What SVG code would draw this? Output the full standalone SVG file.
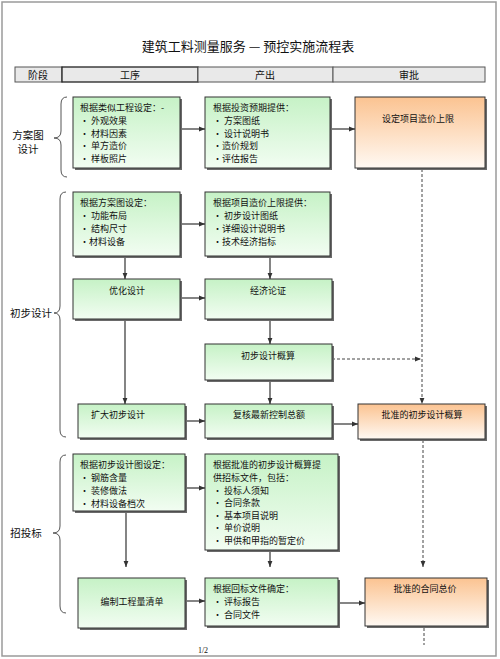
<svg xmlns="http://www.w3.org/2000/svg" width="500" height="659" viewBox="0 0 500 659">
<defs>
<linearGradient id="gG" x1="0" y1="0" x2="0" y2="1">
<stop offset="0" stop-color="#c6f2c6"/>
<stop offset="1" stop-color="#f2fdf2"/>
</linearGradient>
<linearGradient id="gO" x1="0" y1="0" x2="0" y2="1">
<stop offset="0" stop-color="#fbc391"/>
<stop offset="1" stop-color="#fff9f3"/>
</linearGradient>
<marker id="ar" viewBox="0 0 10 10" refX="10" refY="5" markerWidth="6" markerHeight="6" orient="auto" markerUnits="userSpaceOnUse">
<path d="M0,1 L10,5 L0,9 z" fill="#333"/>
</marker>
<style>
text{font-family:"Noto Sans CJK SC","Noto Sans",sans-serif;fill:#111}
.t{font-size:9px}
.c{text-anchor:middle}
.lab{font-size:10.5px;text-anchor:middle}
.hd{font-size:10px;text-anchor:middle}
.g{fill:url(#gG);stroke:#333;stroke-width:1}
.o{fill:url(#gO);stroke:#333;stroke-width:1}
.sh{fill:#6a6a6a}
.cn{stroke:#333;stroke-width:1.2;fill:none}
.da{stroke:#444;stroke-width:1;fill:none;stroke-dasharray:3,2}
.br{stroke:#555;stroke-width:1;fill:none}
.hc{fill:#e9e9e9;stroke:#555;stroke-width:1}
</style>
</defs>
<rect x="0" y="0" width="500" height="659" fill="#fff"/>
<rect x="2" y="2" width="494" height="654" fill="none" stroke="#9a9a9a" stroke-width="1.5"/>
<text x="248" y="51" class="c" style="font-size:13px">建筑工料测量服务 — 预控实施流程表</text>

<g id="header">
<rect x="15" y="67" width="47" height="15" class="hc"/>
<rect x="62" y="67" width="136" height="15" class="hc" style="stroke:#222;stroke-width:1.3"/>
<rect x="198" y="67" width="135" height="15" class="hc"/>
<rect x="333" y="67" width="152" height="15" class="hc"/>
<text x="38" y="78.5" class="hd">阶段</text>
<text x="130" y="78.5" class="hd">工序</text>
<text x="265" y="78.5" class="hd">产出</text>
<text x="409" y="78.5" class="hd">审批</text>
</g>

<g id="stages">
<path class="br" d="M67,97 Q61,97 61,104 L61,131 Q61,138 54,138 Q61,138 61,145 L61,170 Q61,177 67,177"/>
<text x="28" y="139" class="lab">方案图</text>
<text x="28" y="153" class="lab">设计</text>
<path class="br" d="M66,192 Q60,192 60,199 L60,306 Q60,313 54,313 Q60,313 60,320 L60,430 Q60,437 66,437"/>
<text x="31" y="317" class="lab">初步设计</text>
<path class="br" d="M66,455 Q60,455 60,462 L60,526 Q60,533 53,533 Q60,533 60,540 L60,606 Q60,613 66,613"/>
<text x="26" y="537" class="lab">招投标</text>
</g>

<g id="connectors">
<line class="cn" x1="180" y1="129" x2="205" y2="129" marker-end="url(#ar)"/>
<line class="cn" x1="332" y1="129" x2="355" y2="129" marker-end="url(#ar)"/>
<line class="cn" x1="180" y1="224" x2="205" y2="224" marker-end="url(#ar)"/>
<line class="cn" x1="125" y1="257" x2="125" y2="279" marker-end="url(#ar)"/>
<line class="cn" x1="270" y1="257" x2="270" y2="279" marker-end="url(#ar)"/>
<line class="cn" x1="180" y1="298" x2="205" y2="298" marker-end="url(#ar)"/>
<line class="cn" x1="270" y1="320" x2="270" y2="344" marker-end="url(#ar)"/>
<line class="cn" x1="125" y1="320" x2="125" y2="404" marker-end="url(#ar)"/>
<line class="cn" x1="270" y1="381" x2="270" y2="404" marker-end="url(#ar)"/>
<line class="cn" x1="185" y1="421" x2="205" y2="421" marker-end="url(#ar)"/>
<line class="cn" x1="332" y1="424" x2="358" y2="424" marker-end="url(#ar)"/>
<line class="da" x1="332" y1="359" x2="421" y2="359" marker-end="url(#ar)"/>
<line class="da" x1="422" y1="169" x2="422" y2="404" marker-end="url(#ar)"/>
<line class="da" x1="423" y1="440" x2="423" y2="567" marker-end="url(#ar)"/>
<line class="da" x1="424" y1="628" x2="424" y2="645"/>
<line class="cn" x1="185" y1="488" x2="205" y2="488" marker-end="url(#ar)"/>
<line class="cn" x1="126" y1="512" x2="126" y2="567" marker-end="url(#ar)"/>
<line class="cn" x1="270" y1="551" x2="270" y2="567" marker-end="url(#ar)"/>
<line class="cn" x1="185" y1="601" x2="205" y2="601" marker-end="url(#ar)"/>
<line class="cn" x1="338" y1="603" x2="365" y2="603" marker-end="url(#ar)"/>
</g>

<g id="A1">
<rect x="75" y="99" width="107" height="71" class="sh"/>
<rect x="73" y="97" width="107" height="71" class="g"/>
<text class="t" x="80" y="111">根据类似工程设定：-</text>
<text class="t" x="80" y="124">• 外观效果</text>
<text class="t" x="80" y="137">• 材料因素</text>
<text class="t" x="80" y="149">• 单方造价</text>
<text class="t" x="80" y="162">• 样板照片</text>
</g>
<g id="A2">
<rect x="207" y="99" width="125" height="71" class="sh"/>
<rect x="205" y="97" width="125" height="71" class="g"/>
<text class="t" x="213" y="111">根据投资预期提供：</text>
<text class="t" x="213" y="124">• 方案图纸</text>
<text class="t" x="213" y="137">• 设计说明书</text>
<text class="t" x="213" y="149">•造价规划</text>
<text class="t" x="213" y="162">•评估报告</text>
</g>
<g id="A3">
<rect x="357" y="99" width="130" height="71" class="sh"/>
<rect x="355" y="97" width="130" height="71" class="o"/>
<text class="t c" x="418" y="122">设定项目造价上限</text>
</g>

<g id="B1">
<rect x="75" y="194" width="107" height="64" class="sh"/>
<rect x="73" y="192" width="107" height="64" class="g"/>
<text class="t" x="80" y="206">根据方案图设定：</text>
<text class="t" x="80" y="219">• 功能布局</text>
<text class="t" x="80" y="232">• 结构尺寸</text>
<text class="t" x="80" y="245">•材料设备</text>
</g>
<g id="B2">
<rect x="207" y="194" width="125" height="64" class="sh"/>
<rect x="205" y="192" width="125" height="64" class="g"/>
<text class="t" x="213" y="206">根据项目造价上限提供：</text>
<text class="t" x="213" y="219">• 初步设计图纸</text>
<text class="t" x="213" y="232">•详细设计说明书</text>
<text class="t" x="213" y="245">•技术经济指标</text>
</g>
<g id="C1">
<rect x="75" y="281" width="107" height="40" class="sh"/>
<rect x="73" y="279" width="107" height="40" class="g"/>
<text class="t c" x="127" y="294">优化设计</text>
</g>
<g id="C2">
<rect x="207" y="281" width="127" height="40" class="sh"/>
<rect x="205" y="279" width="127" height="40" class="g"/>
<text class="t c" x="268" y="294">经济论证</text>
</g>
<g id="D">
<rect x="207" y="346" width="127" height="36" class="sh"/>
<rect x="205" y="344" width="127" height="36" class="g"/>
<text class="t c" x="268" y="359">初步设计概算</text>
</g>
<g id="E1">
<rect x="80" y="406" width="107" height="34" class="sh"/>
<rect x="78" y="404" width="107" height="34" class="g"/>
<text class="t c" x="118" y="418">扩大初步设计</text>
</g>
<g id="E2">
<rect x="207" y="406" width="127" height="34" class="sh"/>
<rect x="205" y="404" width="127" height="34" class="g"/>
<text class="t c" x="269" y="418">复核最新控制总额</text>
</g>
<g id="E3">
<rect x="360" y="406" width="127" height="35" class="sh"/>
<rect x="358" y="404" width="127" height="35" class="o"/>
<text class="t c" x="422" y="418">批准的初步设计概算</text>
</g>

<g id="F1">
<rect x="75" y="456" width="112" height="57" class="sh"/>
<rect x="73" y="454" width="112" height="57" class="g"/>
<text class="t" x="80" y="468">根据初步设计图设定：</text>
<text class="t" x="80" y="481">• 钢筋含量</text>
<text class="t" x="80" y="494">• 装修做法</text>
<text class="t" x="80" y="507">• 材料设备档次</text>
</g>
<g id="F2">
<rect x="207" y="456" width="133" height="96" class="sh"/>
<rect x="205" y="454" width="133" height="96" class="g"/>
<text class="t" x="213" y="468">根据批准的初步设计概算提</text>
<text class="t" x="213" y="481">供招标文件，包括：</text>
<text class="t" x="213" y="494">• 投标人须知</text>
<text class="t" x="213" y="506">• 合同条款</text>
<text class="t" x="213" y="519">• 基本项目说明</text>
<text class="t" x="213" y="531">• 单价说明</text>
<text class="t" x="213" y="544">• 甲供和甲指的暂定价</text>
</g>
<g id="G1">
<rect x="80" y="580" width="107" height="50" class="sh"/>
<rect x="78" y="578" width="107" height="50" class="g"/>
<text class="t c" x="132" y="605">编制工程量清单</text>
</g>
<g id="G2">
<rect x="207" y="580" width="133" height="48" class="sh"/>
<rect x="205" y="578" width="133" height="48" class="g"/>
<text class="t" x="213" y="592">根据回标文件确定：</text>
<text class="t" x="213" y="605">• 评标报告</text>
<text class="t" x="213" y="618">• 合同文件</text>
</g>
<g id="G3">
<rect x="367" y="580" width="122" height="48" class="sh"/>
<rect x="365" y="578" width="122" height="48" class="o"/>
<text class="t c" x="425" y="592">批准的合同总价</text>
</g>

<text x="203" y="653" class="c" style="font-family:'Liberation Serif',serif;font-size:8px">1/2</text>
</svg>
